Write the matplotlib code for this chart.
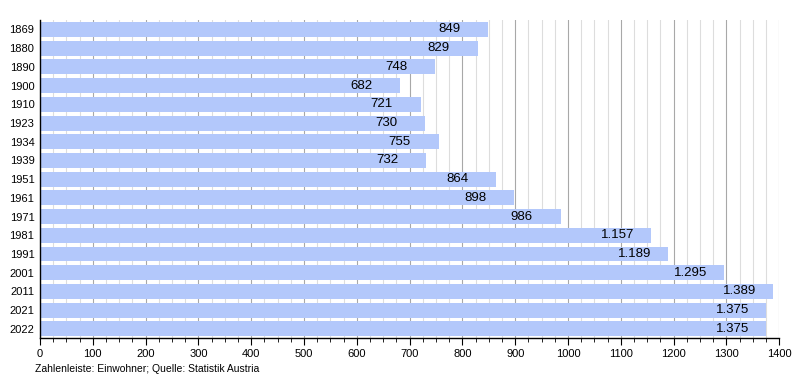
import matplotlib.pyplot as plt
import numpy as np
from matplotlib.ticker import MultipleLocator

# Population data (Statistik Austria)
years = ['1869', '1880', '1890', '1900', '1910', '1923', '1934', '1939',
         '1951', '1961', '1971', '1981', '1991', '2001', '2011', '2021', '2022']
population = [849, 829, 748, 682, 721, 730, 755, 732,
              864, 898, 986, 1157, 1189, 1295, 1389, 1375, 1375]

plt.rcParams['font.family'] = ['Liberation Sans', 'DejaVu Sans']

fig = plt.figure(figsize=(8, 3.8), dpi=100)
ax = fig.add_axes([0.05, 0.11, 0.924, 0.837])

y = np.arange(len(years))
bars = ax.barh(y, population, height=0.8, color='#b3c8fb', zorder=2)

# Value labels inside the bar, German thousands separator
for rect, val in zip(bars, population):
    label = f"{val:,}".replace(',', '.')
    ax.annotate(label, (rect.get_width(), rect.get_y() + rect.get_height() / 2),
                xytext=(-36, 0), textcoords='offset points',
                ha='left', va='center', fontsize=9.5, color='black', zorder=3)

ax.set_yticks(y, years)
ax.set_ylim(len(years) - 0.5, -0.5)
ax.set_xlim(0, 1400)
ax.xaxis.set_major_locator(MultipleLocator(100))
ax.xaxis.set_minor_locator(MultipleLocator(25))

ax.grid(axis='x', which='major', color='#a8a8a8', linewidth=0.8, zorder=0)
ax.grid(axis='x', which='minor', color='#dddddd', linewidth=0.8, zorder=0)
ax.set_axisbelow(True)

ax.spines['top'].set_visible(False)
ax.spines['right'].set_visible(False)
ax.spines['left'].set_linewidth(1)
ax.spines['bottom'].set_linewidth(1)

ax.tick_params(axis='y', length=0, labelsize=8, pad=4)
ax.tick_params(axis='x', which='major', length=5, labelsize=8, pad=3)
ax.tick_params(axis='x', which='minor', length=3)

fig.text(0.044, 0.015, "Zahlenleiste: Einwohner; Quelle: Statistik Austria",
         fontsize=7.5, ha='left', va='bottom')

fig.savefig("out.png", dpi=100)
